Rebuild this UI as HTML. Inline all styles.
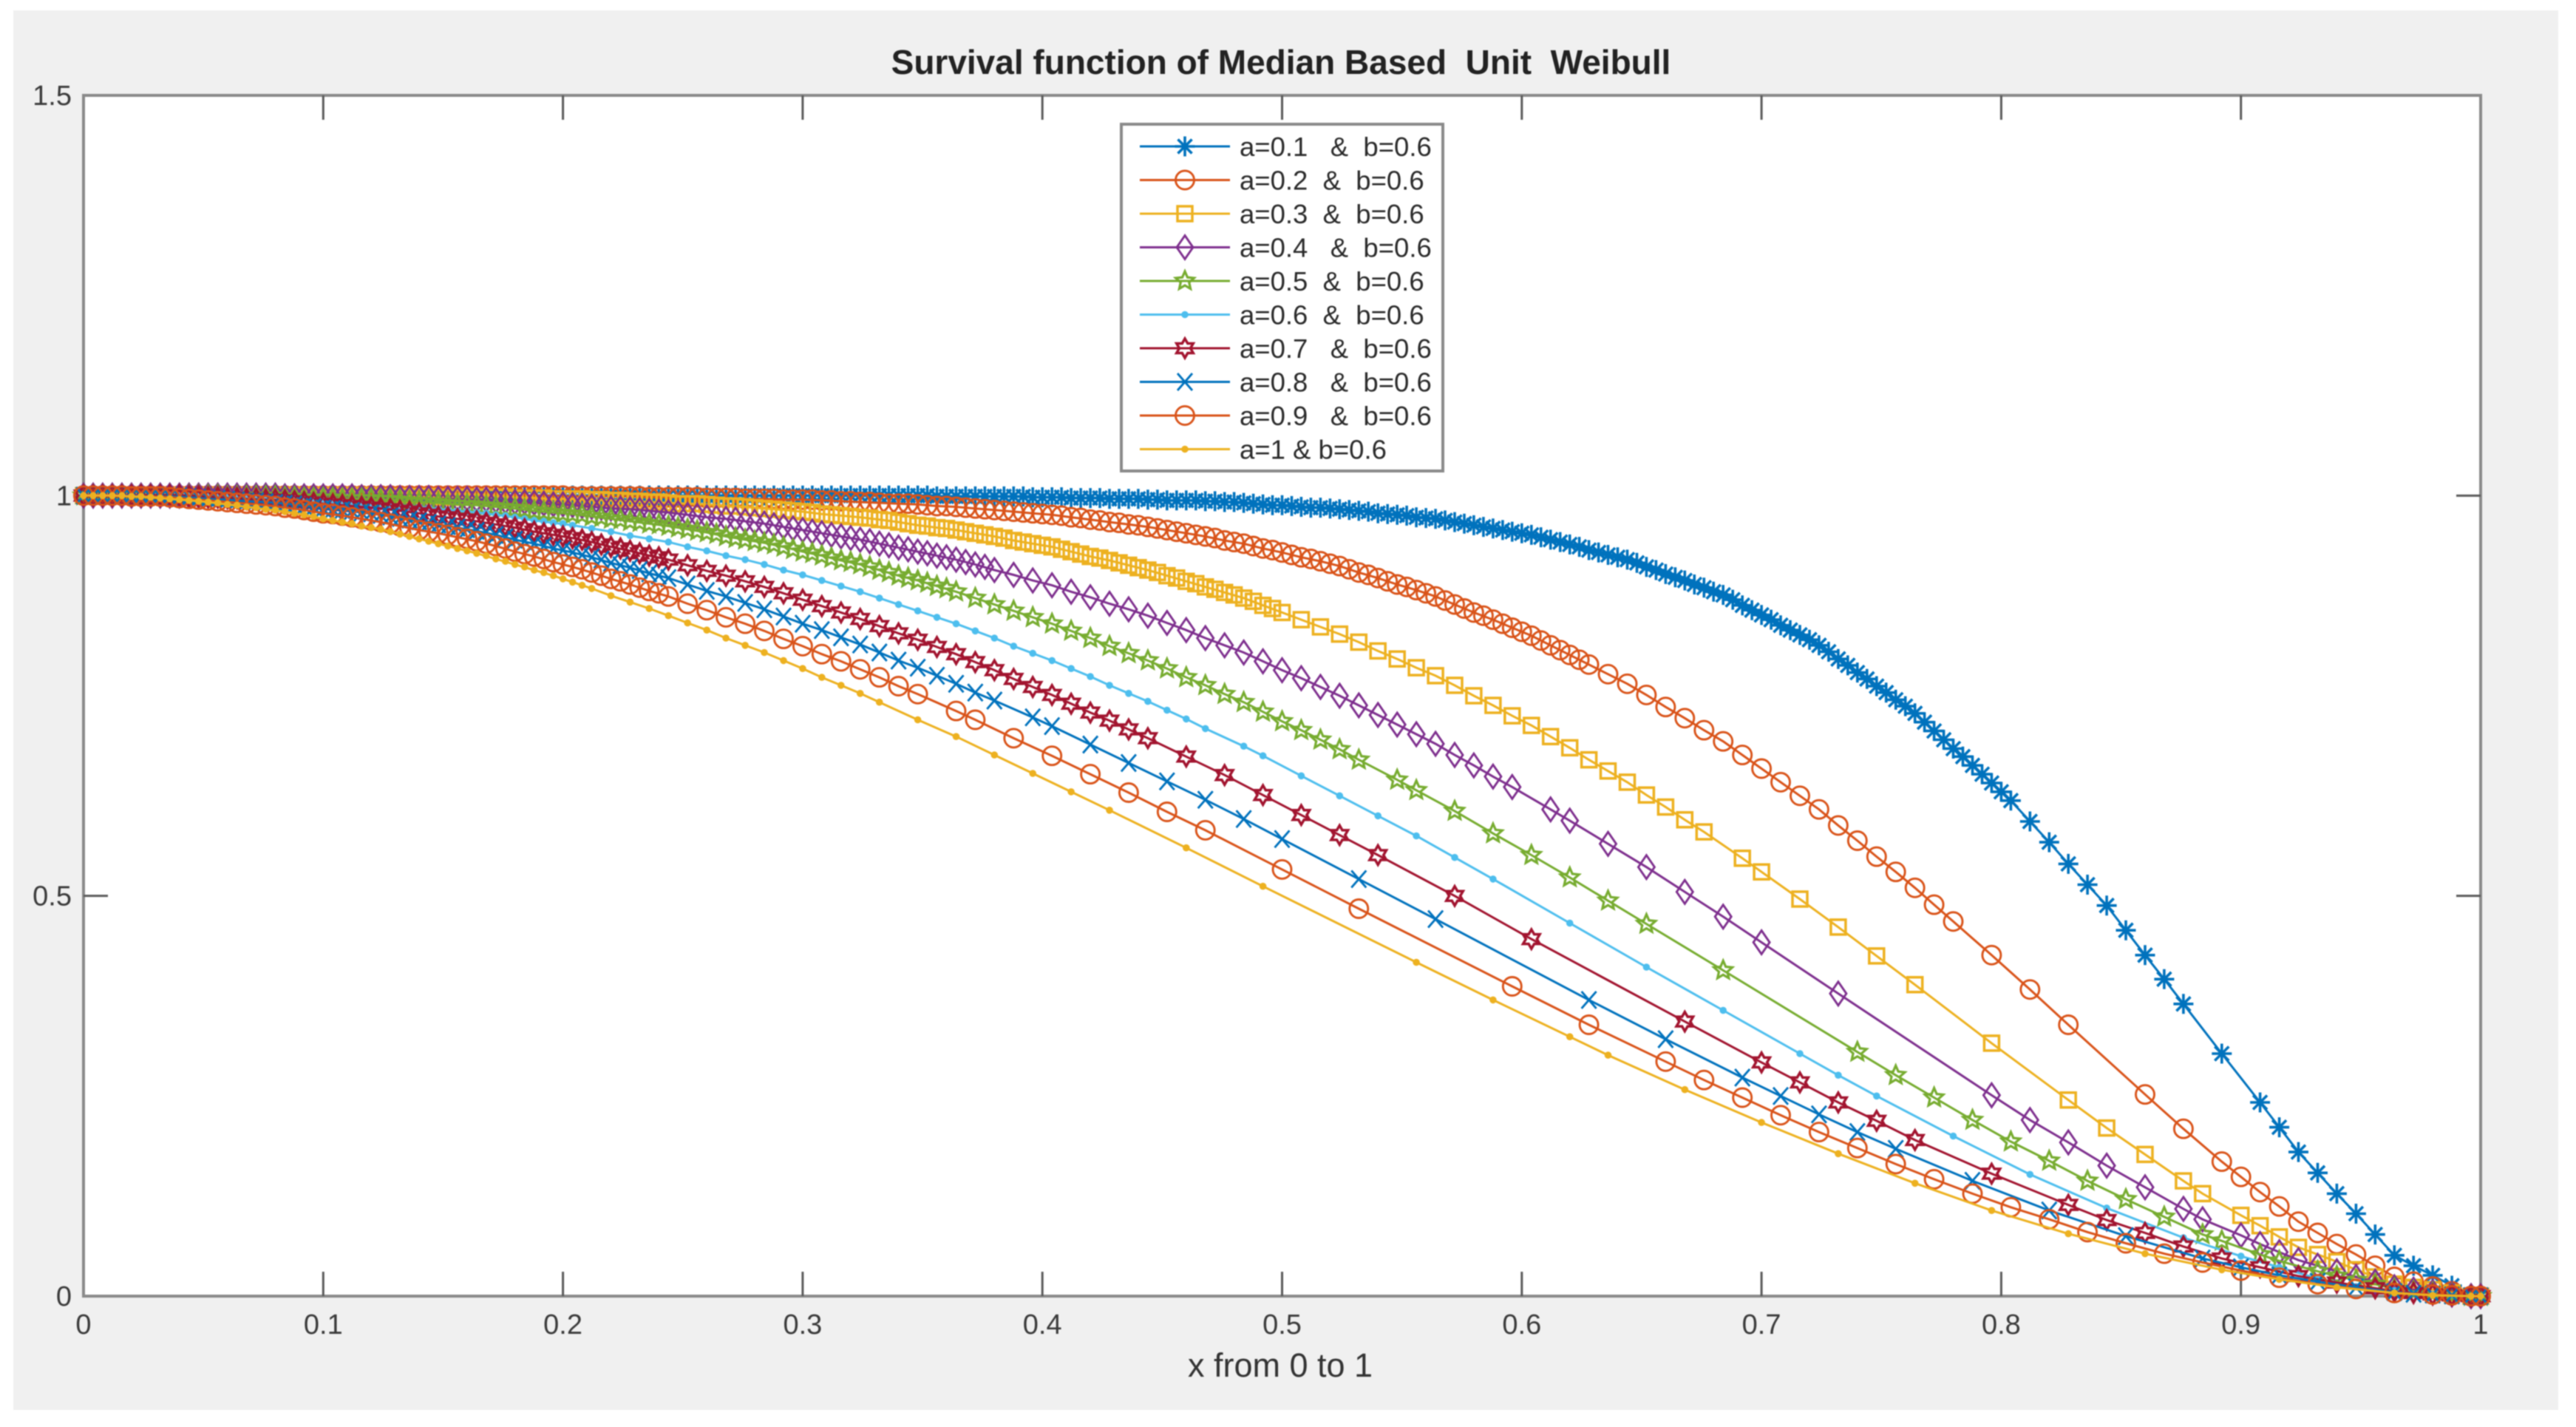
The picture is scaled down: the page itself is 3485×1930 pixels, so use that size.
<!DOCTYPE html>
<html lang="en">
<head>
<meta charset="utf-8">
<title>Survival function of Median Based Unit Weibull</title>
<style>
html,body{margin:0;padding:0;background:#fff;width:3485px;height:1930px;overflow:hidden}
svg{display:block;filter:blur(0.8px)}
text{font-family:"Liberation Sans",sans-serif;white-space:pre}
</style>
</head>
<body>
<svg id="chart" xmlns="http://www.w3.org/2000/svg" width="3485" height="1930" viewBox="0 0 3485 1930">
  <rect x="18" y="14" width="3443" height="1893" fill="#f0f0f0"/>
  <rect x="113" y="129" width="3243" height="1624" fill="#ffffff"/>
  <text x="1733" y="100" text-anchor="middle" font-size="46" font-weight="bold" fill="#222">Survival function of Median Based  Unit  Weibull</text>
  <text x="1732" y="1862" text-anchor="middle" font-size="45" fill="#333">x from 0 to 1</text>
  <g id="axes"></g>
  <g id="series"></g>
  <g id="legend"></g>
</svg>
<script>
const _ = null;
const xValues = [0,
.004,.012,.020,.028,.036,.044,.052,.060,.068,.076,
.084,.092,.100,.108,.116,.124,.132,.140,.148,.156,
.164,.172,.180,.188,.196,.204,.212,.220,.228,.236,
.244,.252,.260,.268,.276,.284,.292,.300,.308,.316,
.324,.332,.340,.348,.356,.364,.372,.380,.388,.396,
.404,.412,.420,.428,.436,.444,.452,.460,.468,.476,
.484,.492,.500,.508,.516,.524,.532,.540,.548,.556,
.564,.572,.580,.588,.596,.604,.612,.620,.628,.636,
.644,.652,.660,.668,.676,.684,.692,.700,.708,.716,
.724,.732,.740,.748,.756,.764,.772,.780,.788,.796,
.804,.812,.820,.828,.836,.844,.852,.860,.868,.876,
.884,.892,.900,.908,.916,.924,.932,.940,.948,.956,
.964,.972,.980,.988,.996,
1];

const seriesA01 = [1,
1,1,1,1,1,1,1,1,1,1,
1,1,1,1,1,1,1,1,1,1,
1,1,1,1,1,1,1,1,1,1,
1,1,1,1,1,1,1,1,1,1,
1,1,1,1,.999,.999,.999,.999,.999,.998,
.998,.997,.997,.996,.996,.995,.994,.994,.993,.992,
.991,.989,.988,.986,.985,.983,.981,.978,.976,.973,
.971,.967,.963,.959,.955,.951,.945,.939,.932,.926,
.92,.911,.902,.894,.885,.876,.863,.851,.838,.826,
.813,.796,.779,.762,.745,.728,.706,.684,.663,.641,
.619,.593,.567,.54,.514,.488,.457,.426,.396,.365,
_,.303,_,.242,.211,.18,.154,.128,.103,.077,
.051,.038,.026,.013,.001,
0];

const seriesA02 = [1,
1,1,1,1,1,1,1,1,1,1,
1,1,1,1,1,1,1,1,1,1,
1,1,1,1,1,.999,.999,.999,.999,.998,
.998,.998,.997,.997,.996,.996,.995,.995,.994,.993,
.992,.991,.99,.989,.987,.986,.984,.982,.98,.978,
.976,.973,.97,.967,.964,.961,.957,.953,.949,.944,
.94,.934,.929,.923,.918,.912,.904,.897,.889,.882,
.874,.864,.854,.845,.835,.825,.813,.801,.789,.777,
.765,.751,.736,.722,.707,.693,.676,.659,.642,.625,
.608,.588,.569,.549,.53,.51,.489,.468,_,.426,
_,.383,_,.339,_,_,_,.252,_,.209,
_,.168,.149,.13,.112,.093,.079,.065,.052,.038,
.024,.018,.012,.006,0,
0];

const seriesA03 = [1,
1,1,1,1,1,1,1,1,1,1,
1,1,1,1,1,.999,.999,.999,.998,.998,
.998,.998,.997,.997,.996,.996,.995,.994,.993,.992,
.991,.99,.989,.987,.986,.984,.982,.98,.977,.975,
.973,.97,.967,.963,.96,.957,.953,.949,.944,.94,
.936,.93,.924,.919,.913,.907,.9,.893,.886,.879,
.872,.863,.854,.845,.836,.827,.817,.806,.796,.785,
.775,.763,.75,.738,.725,.713,.699,.685,.67,.656,
.642,.626,.611,.595,.58,_,.547,.53,_,.496,
_,.461,_,.425,_,.389,_,_,_,.316,
_,_,_,.245,_,.21,_,.177,_,.144,
.128,_,.101,.088,.074,.061,.052,.043,.033,.024,
.015,.011,.008,.004,0,
0];

const seriesA04 = [1,
1,1,1,1,1,1,1,1,1,1,
.999,.999,.999,.999,.998,.998,.997,.997,.996,.996,
.995,.994,.992,.991,.989,.988,.986,.984,.983,.981,
.979,.976,.973,.971,.968,.965,.961,.957,.953,.949,
.945,.94,.935,.93,.925,.92,.914,.907,.901,.894,
.888,.88,.873,.865,.858,.85,.841,.832,.822,.813,
.804,.793,.782,.772,.761,.75,.738,.726,.714,.702,
.69,.676,.663,.649,.636,_,.608,.594,_,.565,
_,.536,_,.505,_,.474,_,.442,_,_,
_,.378,_,_,_,_,_,_,_,.251,
_,.22,_,.192,_,.163,_,.136,_,.109,
.096,_,.076,.065,.055,.045,.038,.031,.024,.018,
.011,.008,.005,.002,0,
0];

const seriesA05 = [1,
1,1,1,1,1,1,1,.999,.999,.999,
.998,.997,.997,.996,.996,.995,.994,.992,.991,.989,
.988,.986,.984,.981,.979,.977,.974,.971,.968,.965,
.962,.958,.954,.949,.945,.941,.936,.93,.925,.919,
.914,.907,.9,.894,.887,.88,.872,.864,.856,.848,
.84,.831,.822,.812,.803,.794,.784,.773,.763,.752,
.742,.73,.718,.707,.695,.683,.67,_,.645,.632,
_,.606,_,.578,_,.551,_,.523,_,.494,
_,.465,_,_,_,.407,_,_,_,_,
_,_,.305,_,.276,_,.248,_,.22,_,
.193,_,.169,_,.144,_,.121,_,.099,_,
.077,.069,_,.052,.044,_,.031,.025,.02,.015,
.009,.006,.004,.002,0,
0];

const seriesA06 = [1,
1,1,1,1,1,.999,.999,.999,.998,.998,
.997,.996,.994,.993,.991,.99,.988,.986,.983,.981,
.979,.976,.973,.969,.966,.963,.959,.955,.95,.946,
.942,.936,.931,.925,.92,.914,.907,.901,.894,.887,
.88,.872,.864,.856,.848,.84,.831,.822,.812,.803,
.794,.784,.774,.763,.753,.743,.732,.721,.709,_,
.687,.675,_,.65,_,.625,_,.6,_,.575,
_,.548,_,.521,_,_,_,.466,_,_,
_,.411,_,_,_,.357,_,_,_,.303,
_,.276,_,.25,_,_,_,.2,_,_,
_,.152,_,_,_,.11,_,_,_,.073,
_,_,.05,_,.036,_,.022,_,.012,_,
.007,_,.002,_,0,
0];

const seriesA07 = [1,
1,1,1,1,1,.999,.998,.997,.996,.995,
.994,.992,.99,.988,.986,.984,.981,.978,.974,.971,
.968,.964,.96,.955,.951,.947,.942,.936,.931,.925,
.92,.913,.906,.9,.893,.886,.878,.87,.862,.854,
.846,.837,.828,.82,.811,.802,.792,.782,.771,.761,
.751,.74,.729,.719,.708,.697,_,.674,_,.651,
_,.626,_,.601,_,.576,_,.551,_,_,
_,.5,_,_,_,.446,_,_,_,_,
_,_,_,.343,_,_,_,.292,_,.267,
_,.242,_,.219,_,.195,_,_,_,.153,
_,_,_,.114,_,.095,_,.079,_,.062,
_,.047,_,.036,_,.025,_,.017,_,.01,
.006,.004,.002,.001,0,
0];

const seriesA08 = [1,
1,1,1,.999,.999,.998,.996,.995,.993,.992,
.99,.987,.984,.982,.979,.976,.972,.968,.964,.96,
.956,.951,.945,.94,.934,.929,.923,.916,.91,.903,
.897,.889,.881,.874,.866,.858,.849,.84,.832,.823,
.814,.804,.794,.785,.775,.765,.754,.744,_,.723,
.712,_,.689,_,.666,_,.643,_,.62,_,
.596,_,.571,_,_,_,.521,_,_,_,
.471,_,_,_,_,_,_,_,.37,_,
_,_,.321,_,_,_,.273,_,.25,_,
.227,_,.205,_,.184,_,_,_,.144,_,
_,_,.107,_,_,_,.075,_,_,_,
.047,_,.036,_,.026,_,.018,_,.011,_,
.005,.003,.002,.001,0,
0];

const seriesA09 = [1,
1,1,.999,.999,.998,.996,.994,.992,.99,.988,
.985,.982,.978,.975,.971,.967,.962,.957,.953,.948,
.943,.937,.93,.924,.917,.911,.904,.896,.889,.881,
.874,.865,.857,.848,.84,.831,.821,.812,.802,.793,
.783,.773,.762,.752,_,.731,.72,_,.697,_,
.675,_,.652,_,.629,_,.605,_,.582,_,
_,_,.533,_,_,_,.484,_,_,_,
_,_,_,_,.387,_,_,_,.339,_,
_,_,.293,_,.27,_,.248,_,.226,_,
.205,_,.185,_,.165,_,.146,_,.128,_,
.111,_,.096,_,.08,_,.066,_,.053,_,
.042,_,.032,_,.023,_,.015,_,.009,_,
.004,_,.002,.001,0,
0];

const seriesA10 = [1,
1,1,.999,.998,.996,.994,.992,.989,.986,.983,
.98,.976,.971,.967,.962,.958,.952,.946,.94,.934,
.928,.921,.914,.907,.9,.892,.884,.875,.867,.859,
.85,.841,.832,.822,.813,.804,.794,.784,.773,.763,
.753,.742,_,.72,_,.699,_,.676,_,.653,
_,.63,_,.607,_,_,_,.56,_,_,
_,.512,_,_,_,_,_,_,_,.417,
_,_,_,.37,_,_,_,.324,_,.301,
_,_,_,.258,_,_,_,.217,_,_,
_,.178,_,_,_,.141,_,_,_,.107,
_,_,_,.078,_,_,_,.053,_,_,
_,.033,_,_,.021,_,_,.011,_,_,
.004,_,.001,_,0,
0];

/* extra samples in the densely packed part of each curve */
const denseX = [
.008,.016,.024,.032,.040,.048,.056,.064,.072,.080,
.088,.096,.104,.112,.120,.128,.136,.144,.152,.160,
.168,.176,.184,.192,.200,.208,.216,.224,.232,.240,
.248,.256,.264,.272,.280,.288,.296,.304,.312,.320,
.328,.336,.344,.352,.360,.368,.376,.384,.392,.400,
.408,.416,.424,.432,.440,.448,.456,.464,.472,.480,
.488,.496,.504,.512,.520,.528,.536,.544,.552,.560,
.568,.576,.584,.592,.600,.608,.616,.624,.632,.640,
.648,.656,.664,.672,.680,.688,.696,.704,.712,.720,
.728,.736,.744,.752,.760,.768,.776,.784,.792,.800];

const denseA01 = [
1,1,1,1,1,1,1,1,1,1,
1,1,1,1,1,1,1,1,1,1,
1,1,1,1,1,1,1,1,1,1,
1,1,1,1,1,1,1,1,1,1,
1,1,1,1,.999,.999,.999,.999,.999,.998,
.998,.997,.997,.996,.996,.995,.994,.994,.993,.992,
.99,.988,.987,.985,.984,.982,.98,.977,.975,.972,
.969,.965,.961,.957,.953,.948,.942,.936,.929,.923,
.916,.907,.898,.889,.88,.87,.857,.845,.832,.82,
.805,.788,.771,.754,.737,.717,.695,.674,.652,.63];

const denseA02 = [
1,1,1,1,1,1,1,1,1,1,
1,1,1,1,1,1,1,1,1,1,
1,1,1,1,1,.999,.999,.999,.999,.998,
.998,.998,.997,.997,.996,.996,.995,.995,.994,.993,
.992,.99,.99,.988,.987,.985,.983,.981,.979,.977,
.975,.972,.969,.966,.963,.959,.955,.951,.947,.942,
.937,.932,.926,.921,.915,.908,.901,.893,.886,.878,
.869,.859,.85,.84,.83,.819,.807,.795];

const denseA03 = [
1,1,1,1,1,1,1,1,1,1,
1,1,1,1,1,.999,.999,.999,.998,.998,
.998,.998,.997,.997,.996,.996,.995,.994,.993,.992,
.99,.99,.988,.987,.985,.983,.981,.979,.976,.974,
.972,.969,.965,.962,.959,.955,.951,.947,.942,.938,
.933,.927,.922,.916,.91,.904,.897,.89,.883,.876,
.868,.859];

const denseA04 = [
1,1,1,1,1,1,1,1,1,1,
.999,.999,.999,.999,.998,.998,.997,.997,.996,.996,
.995,.993,.992,.99,.989,.987,.985,.984,.982,.98,
.978,.975,.972,.97,.967,.963,.959,.955,.951,.947,
.943,.938,.933,.928,.923,.917,.911];

const denseA05 = [
1,1,1,1,1,1,1,.999,.999,.999,
.998,.997,.997,.996,.996,.995,.993,.992,.99,.989,
.987,.985,.983,.98,.978,.976,.973,.97,.967,.964,
.96,.956,.952,.947,.943,.939,.933,.928,.922,.917,
.911,.904,.897,.891,.884];

const denseA06 = [
1,1,1,1,1,.999,.999,.999,.998,.998,
.997,.995,.994,.992,.991,.989,.987,.985,.982,.98,
.978,.975,.971,.968,.965];

const denseA07 = [
1,1,1,1,1,.999,.998,.997,.996,.995,
.993,.991,.989,.987,.985,.983,.98,.976,.973,.97,
.966,.962,.958,.953,.949,.945,.939,.934,.928,.923];

const denseA08 = [
1,1,1,.999,.999,.997,.996,.994,.993,.991,
.989,.986,.983,.981,.978,.974,.97,.966,.962,.958,
.954,.948,.943,.937,.932,.926,.92,.913,.907,.9];

const denseA09 = [
1,1,.999,.999,.997,.995,.993,.991,.989,.987,
.984,.98,.977,.973,.969,.965,.96,.955,.951,.946,
.94,.934,.927,.921,.914,.908,.9,.893,.885,.878];

const denseA10 = [
1,1,.999,.997,.995,.993,.991,.988,.985,.982,
.978,.974,.969,.965,.96,.955,.949,.943,.937,.931,
.925,.918,.911,.904,.896,.888];

const xTicks = [0,0.1,0.2,0.3,0.4,0.5,0.6,0.7,0.8,0.9,1];
const xTickLabels = ["0","0.1","0.2","0.3","0.4","0.5","0.6","0.7","0.8","0.9","1"];
const yTicks = [0,0.5,1,1.5];
const yTickLabels = ["0","0.5","1","1.5"];
const legendLabels = ["a=0.1   &  b=0.6","a=0.2  &  b=0.6","a=0.3  &  b=0.6","a=0.4   &  b=0.6","a=0.5  &  b=0.6","a=0.6  &  b=0.6","a=0.7   &  b=0.6","a=0.8   &  b=0.6","a=0.9   &  b=0.6","a=1 & b=0.6"];
const seriesNames = ["a-0-1","a-0-2","a-0-3","a-0-4","a-0-5","a-0-6","a-0-7","a-0-8","a-0-9","a-1"];
const seriesValues = [seriesA01,seriesA02,seriesA03,seriesA04,seriesA05,seriesA06,seriesA07,seriesA08,seriesA09,seriesA10];
const denseValues = [denseA01,denseA02,denseA03,denseA04,denseA05,denseA06,denseA07,denseA08,denseA09,denseA10];
const seriesColors = ["#0072BD","#D95319","#EDB120","#7E2F8E","#77AC30","#4DBEEE","#A2142F","#0072BD","#D95319","#EDB120"];
const seriesMarkers = ["asterisk","circle","square","diamond","pentagram","dot","hexagram","cross","circle","dot"];

const NS = "http://www.w3.org/2000/svg";
const plot = {left:113,right:3356,top:129,bottom:1753};
const xMax = 1, yMax = 1.5;
function xScale(v){return plot.left + (v / xMax) * (plot.right - plot.left);}
function yScale(v){return plot.bottom - (v / yMax) * (plot.bottom - plot.top);}

function starPath(cx,cy,ro,ri,n){
  let d = "";
  for(let i=0;i<n*2;i++){
    const r = i%2===0 ? ro : ri;
    const t = -Math.PI/2 + i*Math.PI/n;
    d += (i?"L":"M") + (cx+r*Math.cos(t)).toFixed(1) + " " + (cy+r*Math.sin(t)).toFixed(1);
  }
  return d + "Z";
}
function markerPath(kind,cx,cy){
  switch(kind){
    case "asterisk": {
      const a=13.5,b=9.5;
      return `M${cx-a} ${cy}H${cx+a}M${cx} ${cy-a}V${cy+a}M${cx-b} ${cy-b}L${cx+b} ${cy+b}M${cx-b} ${cy+b}L${cx+b} ${cy-b}`;
    }
    case "circle": {
      const r=12.5;
      return `M${cx-r} ${cy}A${r} ${r} 0 1 0 ${cx+r} ${cy}A${r} ${r} 0 1 0 ${cx-r} ${cy}Z`;
    }
    case "square": {
      const s=10;
      return `M${cx-s} ${cy-s}H${cx+s}V${cy+s}H${cx-s}Z`;
    }
    case "diamond": {
      const w=11,h=16;
      return `M${cx} ${cy-h}L${cx+w} ${cy}L${cx} ${cy+h}L${cx-w} ${cy}Z`;
    }
    case "pentagram":
      return starPath(cx,cy,13,6,5);
    case "hexagram":
      return starPath(cx,cy,13,7.5,6);
    case "cross": {
      const w=10,h=11.5;
      return `M${cx-w} ${cy-h}L${cx+w} ${cy+h}M${cx-w} ${cy+h}L${cx+w} ${cy-h}`;
    }
    default: {
      const r=3.5;
      return `M${cx-r} ${cy}A${r} ${r} 0 1 0 ${cx+r} ${cy}A${r} ${r} 0 1 0 ${cx-r} ${cy}Z`;
    }
  }
}
const markerStroke = {asterisk:"3.6",circle:"2.9",square:"3.5",diamond:"2.9",pentagram:"3.2",hexagram:"3.5",cross:"2.9",dot:"2.6"};
function addMarker(parent,kind,color,cx,cy,name){
  const m = document.createElementNS(NS,"path");
  m.setAttribute("d",markerPath(kind,cx,cy));
  m.setAttribute("fill",kind==="dot"?color:"none");
  m.setAttribute("stroke",color);
  m.setAttribute("stroke-width",markerStroke[kind]);
  
  
  parent.appendChild(m);
}

const axesGroup = document.getElementById("axes");
const boxEl = document.createElementNS(NS,"rect");
boxEl.setAttribute("x",plot.left);
boxEl.setAttribute("y",plot.top);
boxEl.setAttribute("width",plot.right-plot.left);
boxEl.setAttribute("height",plot.bottom-plot.top);
boxEl.setAttribute("fill","none");
boxEl.setAttribute("stroke","#8a8a8a");
boxEl.setAttribute("stroke-width","4");


axesGroup.appendChild(boxEl);

function addTick(x1,y1,x2,y2,name){
  const t = document.createElementNS(NS,"line");
  t.setAttribute("x1",x1);
  t.setAttribute("y1",y1);
  t.setAttribute("x2",x2);
  t.setAttribute("y2",y2);
  t.setAttribute("stroke","#5a5a5a");
  t.setAttribute("stroke-width","3");
  
  
  axesGroup.appendChild(t);
}
function addLabel(x,y,anchor,str,name){
  const t = document.createElementNS(NS,"text");
  t.setAttribute("x",x);
  t.setAttribute("y",y);
  t.setAttribute("text-anchor",anchor);
  t.setAttribute("font-size","38");
  t.setAttribute("fill","#3a3a3a");
  t.textContent = str;
  
  
  axesGroup.appendChild(t);
}
xTicks.forEach((v,i)=>{
  const px = xScale(v);
  if(v>0 && v<xMax){
    addTick(px,plot.bottom,px,plot.bottom-33,"x-tick-bottom");
    addTick(px,plot.top,px,plot.top+33,"x-tick-top");
  }
  addLabel(px,1804,"middle",xTickLabels[i],"x-tick-label");
});
yTicks.forEach((v,i)=>{
  const py = yScale(v);
  if(v>0 && v<yMax){
    addTick(plot.left,py,plot.left+33,py,"y-tick-left");
    addTick(plot.right,py,plot.right-33,py,"y-tick-right");
  }
  addLabel(97,py+13,"end",yTickLabels[i],"y-tick-label");
});

const seriesGroup = document.getElementById("series");
seriesValues.forEach((vals,s)=>{
  const g = document.createElementNS(NS,"g");
  
  
  const pts = [];
  vals.forEach((v,i)=>{ if(v!==null) pts.push([xScale(xValues[i]),yScale(v)]); });
  const line = document.createElementNS(NS,"polyline");
  line.setAttribute("points",pts.map(p=>p[0].toFixed(1)+","+p[1].toFixed(1)).join(" "));
  line.setAttribute("fill","none");
  line.setAttribute("stroke",seriesColors[s]);
  line.setAttribute("stroke-width","3");
  
  
  g.appendChild(line);
  denseValues[s].forEach((v,i)=>{
    addMarker(g,seriesMarkers[s],seriesColors[s],+xScale(denseX[i]).toFixed(1),+yScale(v).toFixed(1),"point-"+seriesNames[s]);
  });
  pts.forEach(p=>addMarker(g,seriesMarkers[s],seriesColors[s],+p[0].toFixed(1),+p[1].toFixed(1),"point-"+seriesNames[s]));
  seriesGroup.appendChild(g);
});

const legendGroup = document.getElementById("legend");
const legendBox = document.createElementNS(NS,"rect");
legendBox.setAttribute("x","1517");
legendBox.setAttribute("y","168");
legendBox.setAttribute("width","435");
legendBox.setAttribute("height","469");
legendBox.setAttribute("fill","#ffffff");
legendBox.setAttribute("stroke","#8a8a8a");
legendBox.setAttribute("stroke-width","4");


legendGroup.appendChild(legendBox);
legendLabels.forEach((label,i)=>{
  const rowY = 198 + i*45.5;
  const row = document.createElementNS(NS,"g");
  
  
  const ln = document.createElementNS(NS,"line");
  ln.setAttribute("x1","1542");
  ln.setAttribute("x2","1664");
  ln.setAttribute("y1",rowY);
  ln.setAttribute("y2",rowY);
  ln.setAttribute("stroke",seriesColors[i]);
  ln.setAttribute("stroke-width","3");
  
  
  row.appendChild(ln);
  addMarker(row,seriesMarkers[i],seriesColors[i],1603,rowY,"legend-marker");
  const tx = document.createElementNS(NS,"text");
  tx.setAttribute("x","1677");
  tx.setAttribute("y",rowY+13);
  tx.setAttribute("font-size","36.5");
  tx.setAttribute("fill","#2a2a2a");
  tx.textContent = label;
  
  
  row.appendChild(tx);
  legendGroup.appendChild(row);
});
</script>
</body>
</html>
